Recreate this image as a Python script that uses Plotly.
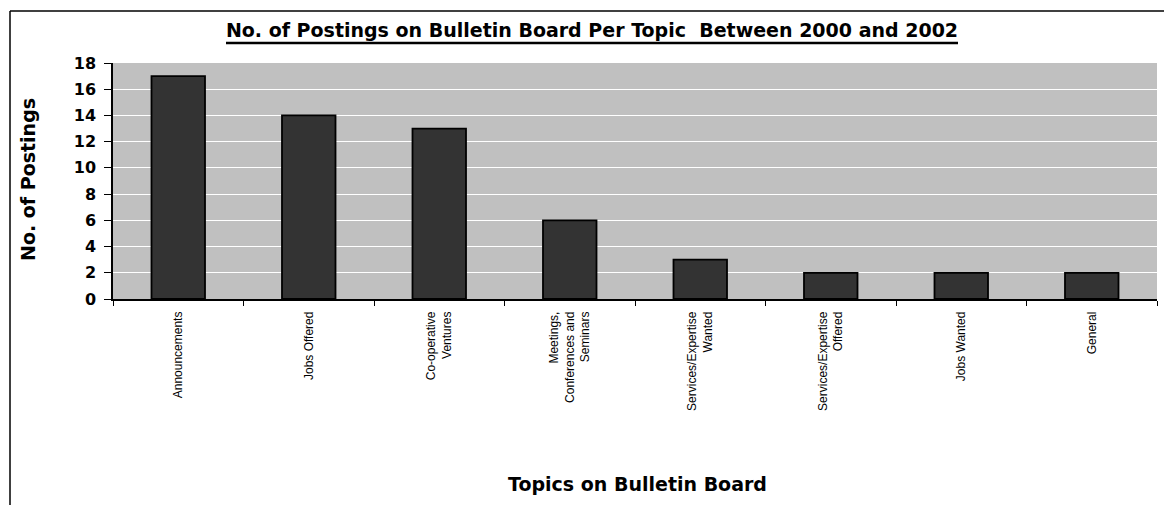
import plotly.graph_objects as go

categories = [
    "Announcements",
    "Jobs Offered",
    "Co-operative<br>Ventures",
    "Meetings,<br>Conferences and<br>Seminars",
    "Services/Expertise<br>Wanted",
    "Services/Expertise<br>Offered",
    "Jobs Wanted",
    "General",
]
postings = [17, 14, 13, 6, 3, 2, 2, 2]
y_ticks = [0, 2, 4, 6, 8, 10, 12, 14, 16, 18]

# page body has an 8px default margin, so the figure is sized/offset for it
W, H = 1164, 497
L, T = 105, 55
pw, ph = 1044, 236
R = W - L - pw
B = H - T - ph

BOLD = "DejaVu Sans, Verdana, sans-serif"

fig = go.Figure()
fig.add_trace(go.Bar(
    x=categories, y=postings,
    marker=dict(color="#333333", line=dict(color="#000000", width=1.8)),
    width=0.41,
    hoverinfo="x+y",
))

fig.update_layout(
    width=W, height=H,
    margin=dict(l=L, r=R, t=T, b=B, autoexpand=False),
    paper_bgcolor="white",
    plot_bgcolor="#C0C0C0",
    showlegend=False,
    font=dict(family="Liberation Sans, Arial, sans-serif", color="black"),
    title=dict(
        text="No. of Postings on Bulletin Board Per Topic  Between 2000 and 2002",
        x=584 / W, xanchor="center", xref="container",
        y=1 - 22 / H, yanchor="middle", yref="container",
        font=dict(size=19, color="black", family=BOLD, weight="bold"),
    ),
    xaxis=dict(
        tickangle=-90,
        tickfont=dict(size=12, color="black"),
        showgrid=False,
        ticks="outside", ticklen=5, tickcolor="black", tickwidth=1.2,
        tickson="boundaries",
        ticklabelstandoff=6,
        showline=True, linecolor="black", linewidth=1.5,
        automargin=False,
    ),
    yaxis=dict(
        range=[0, 18],
        tickvals=y_ticks,
        tickfont=dict(size=16, color="black", family=BOLD, weight="bold"),
        showgrid=True, gridcolor="white", gridwidth=1.2,
        zeroline=False,
        ticks="outside", ticklen=7, tickcolor="black", tickwidth=1.2,
        ticklabelstandoff=5,
        showline=True, linecolor="black", linewidth=1.5,
        automargin=False,
    ),
    annotations=[
        dict(text="<b>Topics on Bulletin Board</b>", xref="paper", yref="paper",
             x=(629 - L) / pw, y=-(476 - (T + ph)) / ph,
             xanchor="center", yanchor="middle", showarrow=False,
             font=dict(size=19, family=BOLD, color="black")),
        dict(text="<b>No. of Postings</b>", xref="paper", yref="paper",
             x=(20 - L) / pw, y=1 - (172 - T) / ph, textangle=-90,
             xanchor="center", yanchor="middle", showarrow=False,
             font=dict(size=19, family=BOLD, color="black")),
    ],
)

# thick underline beneath the title
fig.add_shape(type="line", xref="paper", yref="paper",
              x0=(218 - L) / pw, x1=(950 - L) / pw,
              y0=1 + (T - 35) / ph, y1=1 + (T - 35) / ph,
              line=dict(color="black", width=2.5))

# outer chart border (left and top edges visible in the reference)
x_left = (2 - L) / pw
y_top = 1 + (T - 3) / ph
y_bot = -(H - T - ph) / ph - 0.05
x_right = (W - L) / pw + 0.05
fig.add_shape(type="line", xref="paper", yref="paper",
              x0=x_left, x1=x_left, y0=y_bot, y1=y_top,
              line=dict(color="black", width=1.5))
fig.add_shape(type="line", xref="paper", yref="paper",
              x0=x_left, x1=x_right, y0=y_top, y1=y_top,
              line=dict(color="black", width=1.5))

fig.write_html("out.html")
